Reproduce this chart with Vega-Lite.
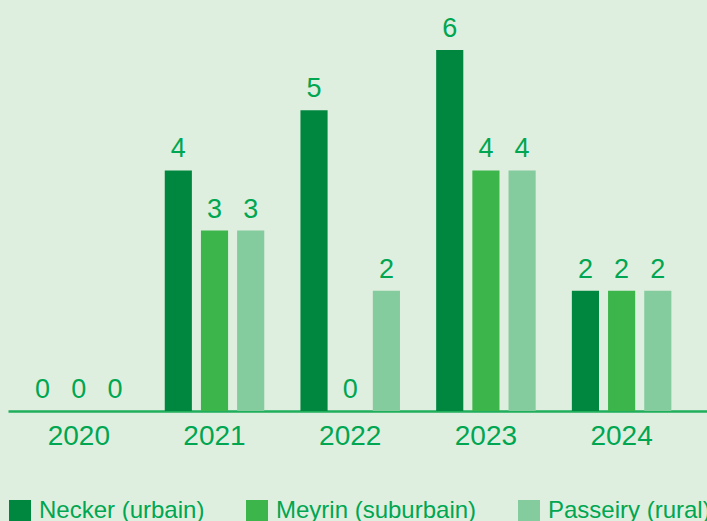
{
  "$schema": "https://vega.github.io/schema/vega-lite/v6.json",
  "width": 699,
  "height": 409,
  "autosize": {"type": "none"},
  "padding": {"left": 8, "top": 2, "right": 0, "bottom": 110},
  "background": "#dfefdf",
  "config": {
    "view": {"stroke": null},
    "font": "Liberation Sans"
  },
  "data": {
    "values": [
      {"year": "2020", "site": "Necker (urbain)", "value": 0},
      {"year": "2020", "site": "Meyrin (suburbain)", "value": 0},
      {"year": "2020", "site": "Passeiry (rural)", "value": 0},
      {"year": "2021", "site": "Necker (urbain)", "value": 4},
      {"year": "2021", "site": "Meyrin (suburbain)", "value": 3},
      {"year": "2021", "site": "Passeiry (rural)", "value": 3},
      {"year": "2022", "site": "Necker (urbain)", "value": 5},
      {"year": "2022", "site": "Meyrin (suburbain)", "value": 0},
      {"year": "2022", "site": "Passeiry (rural)", "value": 2},
      {"year": "2023", "site": "Necker (urbain)", "value": 6},
      {"year": "2023", "site": "Meyrin (suburbain)", "value": 4},
      {"year": "2023", "site": "Passeiry (rural)", "value": 4},
      {"year": "2024", "site": "Necker (urbain)", "value": 2},
      {"year": "2024", "site": "Meyrin (suburbain)", "value": 2},
      {"year": "2024", "site": "Passeiry (rural)", "value": 2}
    ]
  },
  "encoding": {
    "x": {
      "field": "year",
      "type": "nominal",
      "scale": {"paddingInner": 0.2, "paddingOuter": 0.1755, "align": 0.347},
      "axis": {
        "title": null,
        "labelAngle": 0,
        "ticks": false,
        "domainColor": "#1fae5c",
        "domainWidth": 2.7,
        "labelColor": "#00a651",
        "labelFontSize": 28,
        "labelPadding": 11,
        "labelFont": "Liberation Sans"
      }
    },
    "xOffset": {
      "field": "site",
      "type": "nominal",
      "sort": ["Necker (urbain)", "Meyrin (suburbain)", "Passeiry (rural)"],
      "scale": {"paddingInner": 0.25, "paddingOuter": 0.125}
    },
    "y": {
      "field": "value",
      "type": "quantitative",
      "scale": {"domain": [0, 6.8], "nice": false},
      "axis": null
    }
  },
  "layer": [
    {
      "mark": {"type": "bar"},
      "encoding": {
        "color": {
          "field": "site",
          "type": "nominal",
          "sort": ["Necker (urbain)", "Meyrin (suburbain)", "Passeiry (rural)"],
          "scale": {
            "domain": ["Necker (urbain)", "Meyrin (suburbain)", "Passeiry (rural)"],
            "range": ["#00873f", "#3cb54a", "#84cb9d"]
          },
          "legend": {
            "title": null,
            "orient": "none",
            "direction": "horizontal",
            "legendX": 0,
            "legendY": 497,
            "padding": 0,
            "symbolType": "square",
            "symbolSize": 484,
            "symbolStrokeWidth": 0,
            "symbolOpacity": 1,
            "labelFontSize": 24,
            "labelColor": "#00a651",
            "labelFont": "Liberation Sans",
            "labelOffset": 7,
            "columnPadding": 40,
            "labelLimit": 400
          }
        }
      }
    },
    {
      "mark": {
        "type": "text",
        "baseline": "alphabetic",
        "dy": -13,
        "fontSize": 27,
        "color": "#00a651",
        "font": "Liberation Sans"
      },
      "encoding": {
        "text": {"field": "value", "type": "quantitative"}
      }
    }
  ]
}
